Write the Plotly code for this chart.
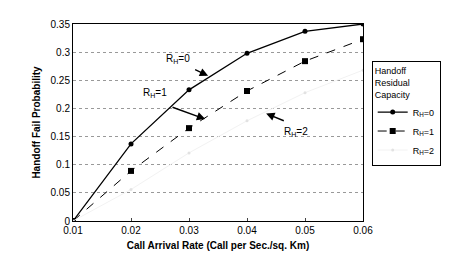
import plotly.graph_objects as go

x_rate = [0.01, 0.02, 0.03, 0.04, 0.05, 0.06]
rh0 = [0.0, 0.137, 0.233, 0.298, 0.337, 0.350]
rh1 = [0.0, 0.089, 0.165, 0.231, 0.284, 0.323]
rh2 = [0.0, 0.056, 0.121, 0.178, 0.228, 0.268]
x_ticks = [0.01, 0.02, 0.03, 0.04, 0.05, 0.06]
x_tick_labels = ["0.01", "0.02", "0.03", "0.04", "0.05", "0.06"]
y_ticks = [0, 0.05, 0.1, 0.15, 0.2, 0.25, 0.3, 0.35]
y_tick_labels = ["0", "0.05", "0.1", "0.15", "0.2", "0.25", "0.3", "0.35"]

FONT = "Liberation Sans, Arial, sans-serif"

fig = go.Figure()
fig.add_trace(go.Scatter(x=x_rate, y=rh0, mode="lines+markers", name="R<sub>H</sub>=0",
                         line=dict(color="black", width=1.3),
                         marker=dict(symbol="circle", size=5, color="black")))
fig.add_trace(go.Scatter(x=x_rate, y=rh1, mode="lines+markers", name="R<sub>H</sub>=1",
                         line=dict(color="black", width=1, dash="dash"),
                         marker=dict(symbol="square", size=6, color="black")))
fig.add_trace(go.Scatter(x=x_rate, y=rh2, mode="lines+markers", name="R<sub>H</sub>=2",
                         line=dict(color="#f2f2f2", width=1),
                         marker=dict(symbol="circle", size=3, color="#e2e2e2")))

arrows = [
    # label text, label x, label y, tip x, tip y, tail x, tail y
    ("R<sub>H</sub>=0", 0.0281, 0.287, 0.0333, 0.258, 0.0308, 0.270),
    ("R<sub>H</sub>=1", 0.0241, 0.227, 0.0328, 0.181, 0.0269, 0.203),
    ("R<sub>H</sub>=2", 0.0484, 0.158, 0.0433, 0.191, 0.0466, 0.177),
]
for txt, lx, ly, tx, ty, ax, ay in arrows:
    fig.add_annotation(x=lx, y=ly, text=txt, showarrow=False,
                       font=dict(family=FONT, size=10, color="black"))
    fig.add_annotation(x=tx, y=ty, ax=ax, ay=ay, axref="x", ayref="y", text="",
                       showarrow=True, arrowhead=2, arrowsize=1.2, arrowwidth=1.4,
                       arrowcolor="black")

fig.update_layout(
    width=453, height=254,
    margin=dict(l=65, r=98, t=10, b=41),
    paper_bgcolor="white", plot_bgcolor="white",
    font=dict(family=FONT, size=10, color="black"),
    showlegend=True,
    legend=dict(x=1.03, y=0.81, xanchor="left", yanchor="top",
                bordercolor="black", borderwidth=1, bgcolor="white",
                font=dict(size=9), itemwidth=30, tracegroupgap=0,
                title=dict(text="Handoff<br>Residual<br>Capacity", font=dict(size=9))),
    xaxis=dict(range=[0.01, 0.06], tickvals=x_ticks, ticktext=x_tick_labels,
               showgrid=False, zeroline=False, showline=True, linecolor="black",
               linewidth=1, mirror=True, ticks="inside", ticklen=3,
               tickfont=dict(size=10),
               title=dict(text="<b>Call Arrival Rate (Call per Sec./sq. Km)</b>",
                          font=dict(size=10), standoff=6)),
    yaxis=dict(range=[0, 0.35], tickvals=y_ticks, ticktext=y_tick_labels,
               showgrid=True, gridcolor="#999999", griddash="dot", gridwidth=1,
               zeroline=False, showline=True, linecolor="black", linewidth=1,
               mirror=True, ticks="", tickfont=dict(size=10),
               title=dict(text="<b>Handoff Fail Probability</b>",
                          font=dict(size=10), standoff=8)),
)

fig.write_html("out.html")
